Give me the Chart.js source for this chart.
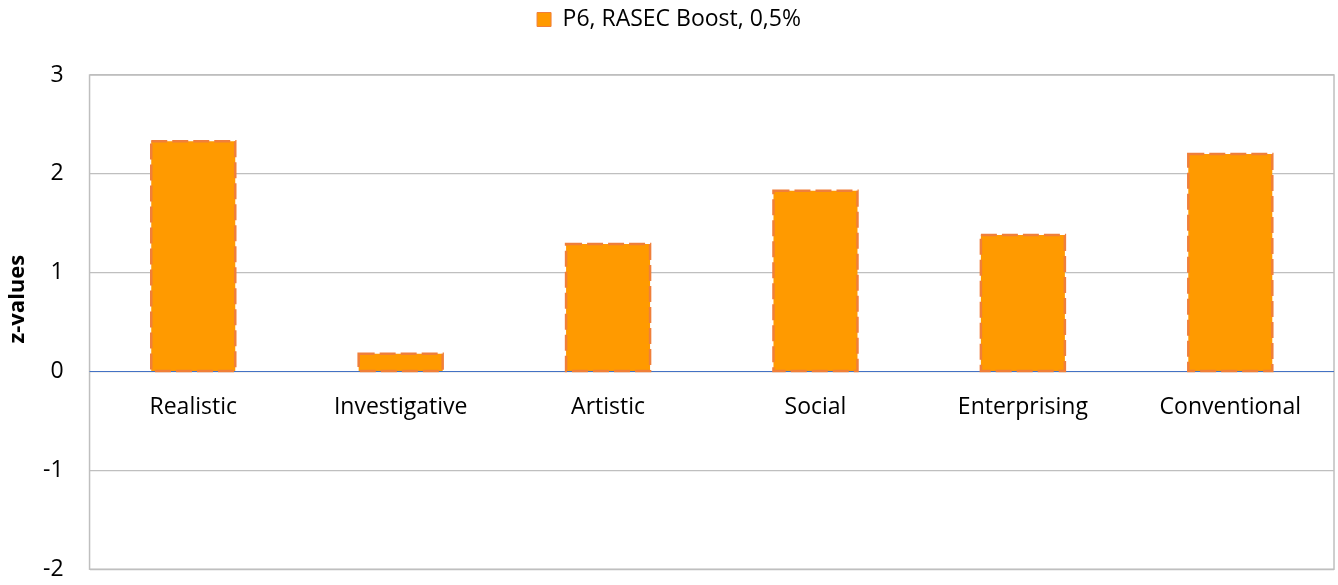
<!DOCTYPE html>
<html>
<head>
<meta charset="utf-8">
<script src="https://cdn.jsdelivr.net/npm/chart.js@4"></script>
<style>
  html, body { margin: 0; background: #fff; overflow: hidden; }
  #wrap { width: 1338px; height: 609px; }
</style>
</head>
<body>
<div id="wrap"><canvas id="chart"></canvas></div>
<script>
const categories = ['Realistic', 'Investigative', 'Artistic', 'Social', 'Enterprising', 'Conventional'];
const zValues = [2.33, 0.18, 1.29, 1.83, 1.38, 2.20];
const seriesLabel = 'P6, RASEC Boost, 0,5%';
const yTitle = 'z-values';
const yTicks = [-2, -1, 0, 1, 2, 3];

const fill = '#ff9a00';
const dashColor = '#f07f3a';
const fontFamily = '"Open Sans", "Noto Sans", sans-serif';

// grey frame, zero line, dashed bar outlines and the y title
const frame = {
  id: 'frame',
  beforeInit(chart) {
    const fit = chart.legend.fit;
    chart.legend.fit = function () {
      fit.call(this);
      this.height += 34;
    };
  },
  afterDatasetsDraw(chart) {
    const { ctx, chartArea: a } = chart;
    ctx.save();
    ctx.strokeStyle = '#bfbfbf';
    ctx.lineWidth = 1.5;
    ctx.strokeRect(a.left, a.top, a.right - a.left, a.bottom - a.top);
    const y0 = chart.scales.y.getPixelForValue(0);
    ctx.strokeStyle = '#4472c4';
    ctx.lineWidth = 1.2;
    ctx.beginPath();
    ctx.moveTo(a.left, y0);
    ctx.lineTo(a.right, y0);
    ctx.stroke();

    ctx.strokeStyle = dashColor;
    ctx.lineWidth = 2.5;
    ctx.setLineDash([16, 5]);
    chart.getDatasetMeta(0).data.forEach(bar => {
      const p = bar.getProps(['x', 'y', 'base', 'width'], true);
      ctx.strokeRect(p.x - p.width / 2, p.y, p.width, p.base - p.y);
    });
    ctx.setLineDash([]);

    // axis title, centred a bit above the plot middle like the original
    ctx.translate(chart.scales.y.left + 14, (a.top + a.bottom) / 2 - 23);
    ctx.rotate(-Math.PI / 2);
    ctx.font = 'bold 22px ' + fontFamily;
    ctx.fillStyle = '#000';
    ctx.textAlign = 'center';
    ctx.textBaseline = 'middle';
    ctx.fillText(yTitle, 0, 0);
    ctx.restore();
  }
};

Chart.defaults.font.family = fontFamily;
Chart.defaults.color = '#000';

new Chart(document.getElementById('chart'), {
  type: 'bar',
  data: {
    labels: categories,
    datasets: [{
      label: seriesLabel,
      data: zValues,
      backgroundColor: fill,
      borderWidth: 0,
      categoryPercentage: 1,
      barPercentage: 0.405
    }]
  },
  options: {
    responsive: true,
    maintainAspectRatio: false,
    animation: false,
    layout: { padding: { top: 0, right: 4, bottom: 4, left: 4 } },
    plugins: {
      legend: {
        position: 'top',
        labels: {
          boxWidth: 14,
          boxHeight: 14,
          font: { size: 23 },
          padding: 8,
          generateLabels(chart) {
            return [{
              text: seriesLabel,
              fillStyle: fill,
              strokeStyle: dashColor,
              lineWidth: 1,
              datasetIndex: 0
            }];
          }
        }
      },
      tooltip: { enabled: false }
    },
    scales: {
      x: {
        position: { y: 0 },
        grid: { display: false },
        border: { display: false },
        ticks: { font: { size: 23 }, padding: 14 }
      },
      y: {
        min: -2,
        max: 3,
        afterBuildTicks(scale) {
          scale.ticks = yTicks.map(v => ({ value: v }));
        },
        afterFit(scale) { scale.width += 13; },
        grid: { color: '#bfbfbf', lineWidth: 1.2, drawTicks: false },
        border: { display: false },
        ticks: { font: { size: 23 }, padding: 26 }
      }
    }
  },
  plugins: [frame]
});
</script>
</body>
</html>
